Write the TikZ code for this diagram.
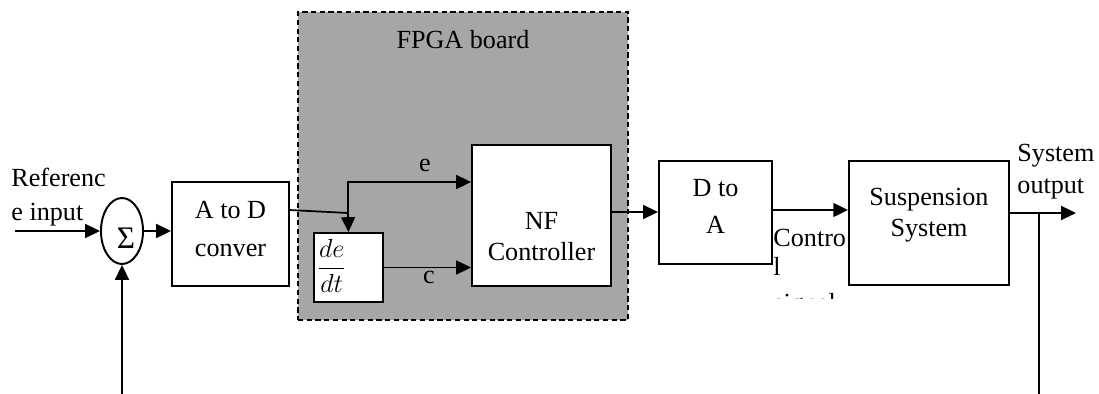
\documentclass[tikz,border=0pt,12pt]{standalone}
\usepackage{amsmath}
\usepackage{fontspec}
\setmainfont{Liberation Serif}
\usetikzlibrary{arrows.meta, shapes.geometric}

\definecolor{boardgray}{HTML}{A6A6A6}

\begin{document}
\begin{tikzpicture}[x=0.459pt, y=-0.459pt,
    blk/.style={draw, line width=0.9pt, fill=white, inner sep=0pt},
    sig/.style={line width=0.8pt},
    arr/.style={sig, -{Triangle[length=6.8pt, width=6.4pt]}}]
    \useasboundingbox (0,0) rectangle (1099,394);

    % FPGA board
    \node[draw, fill=boardgray, line width=0.9pt, dash pattern=on 2.4pt off 1.6pt,
          minimum width=151.5pt, minimum height=141.4pt, inner sep=0pt] (board) at (463,166) {};
    \node (boardlbl) at (463,40) {FPGA board};

    % blocks
    \node[blk, ellipse, minimum width=19.3pt, minimum height=30.3pt] (sum) at (122,231) {};
    \node[font=\large] (sumlbl) at (126,238) {Σ};
    \node[blk, minimum width=53.7pt, minimum height=47.7pt] (atod) at (230.5,234) {};
    \node[align=center, font=\fontsize{12}{17.4}\selectfont] (atodlbl) at (230.5,229) {A to D\\conver};
    \node[blk, minimum width=31.7pt, minimum height=31.7pt] (dedt) at (348.5,267.5) {};
    \node[anchor=west, inner sep=0pt] (dedtlbl) at (316,266) {$\dfrac{de}{dt}$};
    \node[blk, minimum width=63.8pt, minimum height=64.3pt] (nf) at (541.5,215.5) {};
    \node[align=center, font=\fontsize{12}{14.2}\selectfont] (nflbl) at (541.5,237) {NF\\Controller};
    \node[blk, minimum width=51.9pt, minimum height=47.3pt] (dtoa) at (715.5,212.5) {};
    \node[align=center, font=\fontsize{12}{17}\selectfont] (dtoalbl) at (715.5,206.5) {D to\\A};
    \node[blk, minimum width=73.4pt, minimum height=56.9pt] (susp) at (929,223) {};
    \node[align=center, font=\fontsize{12}{14.2}\selectfont] (susplbl) at (929,215) {Suspension\\System};

    % free ends
    \coordinate (refin) at (15,231);
    \coordinate (fbin) at (122,394);
    \coordinate (split) at (348,213);
    \coordinate (etop) at (348,182);
    \coordinate (tap) at (1039,213);
    \coordinate (yout) at (1076,213);
    \coordinate (fbout) at (1039,394);

    % signals
    \draw[arr] (refin) -- (sum.west);
    \draw[arr] (fbin) -- (sum.south);
    \draw[arr] (sum.east) -- (sum.east -| atod.west);
    \draw[sig] ([yshift=11pt]atod.east) -- (split);
    \draw[arr] (split) -- (etop) -- (etop -| nf.west);
    \draw[arr] (split) -- (dedt.north);
    \draw[arr] (dedt.east) -- (dedt.east -| nf.west);
    \draw[arr] (nf.east |- 0,212) -- (dtoa.west |- 0,212);
    \draw[arr] (dtoa.east |- 0,210) -- (susp.west |- 0,210);
    \draw[arr] (susp.east |- yout) -- (yout);
    \draw[sig] (tap) -- (fbout);

    \node (elbl) at (425,165) {e};
    \node (clbl) at (429,277) {c};

    \node[anchor=west, align=left, inner sep=0pt, font=\fontsize{12}{15.6}\selectfont] (reflbl) at (11,197) {Referenc\\e input};
    \node[anchor=west, align=left, inner sep=0pt, font=\fontsize{12}{14.7}\selectfont] (outlbl) at (1017,172) {System\\output};

    % control signal, cut off at the bottom
    \begin{scope}
        \clip (765,150) rectangle (845,298);
        \node[anchor=north west, align=left, inner sep=0pt, font=\fontsize{12}{13.3}\selectfont] (ctrllbl) at (773,229) {Contro\\l\\[3pt]signal};
    \end{scope}
\end{tikzpicture}
\end{document}
